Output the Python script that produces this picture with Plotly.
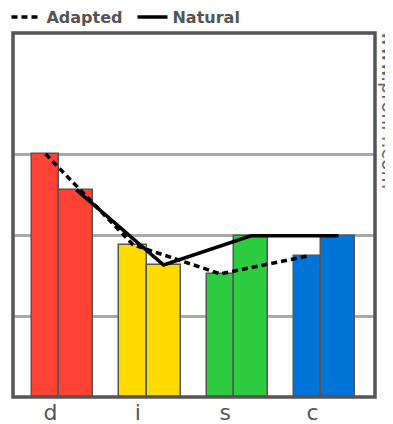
import plotly.graph_objects as go

categories = ["d", "i", "s", "c"]
adapted = [3.0, 1.88, 1.52, 1.74]
natural = [2.56, 1.63, 1.99, 1.99]
colors = ["#FF4136", "#FFDC00", "#2ECC40", "#0074D9"]
grid_vals = [1, 2, 3]

pos = list(range(len(categories)))
x_adapt = [p - 0.055 for p in pos]
x_nat = [p + 0.295 for p in pos]

fig = go.Figure()
fig.add_trace(go.Bar(x=x_adapt, y=adapted, width=0.31, marker=dict(color=colors, line=dict(color="#555555", width=1.5)),
                     showlegend=False, hoverinfo="skip"))
fig.add_trace(go.Bar(x=x_nat, y=natural, width=0.39, marker=dict(color=colors, line=dict(color="#555555", width=1.5)),
                     showlegend=False, hoverinfo="skip"))
fig.add_trace(go.Scatter(x=x_adapt, y=adapted, mode="lines", name="Adapted",
                         line=dict(color="black", width=3.5, dash="6px,4px")))
fig.add_trace(go.Scatter(x=x_nat, y=natural, mode="lines", name="Natural",
                         line=dict(color="black", width=3.5)))

fig.update_layout(
    width=385, height=416,
    margin=dict(l=4.5, r=18, t=25, b=27, autoexpand=False),
    paper_bgcolor="white", plot_bgcolor="white",
    barmode="overlay", bargap=0,
    font=dict(family="DejaVu Sans", color="#555555"),
    xaxis=dict(range=[-0.4286, 3.714], tickvals=pos, ticktext=categories, showgrid=False, zeroline=False,
               tickfont=dict(size=22, color="#555555"), ticks="", showline=False, fixedrange=True),
    yaxis=dict(range=[0, 4.494], tickvals=grid_vals, showticklabels=False, showgrid=True,
               gridcolor="#aaaaaa", gridwidth=2.5, zeroline=False, showline=False, ticks=""),
    legend=dict(orientation="h", xref="paper", yref="paper", x=-0.018, y=1.044,
                xanchor="left", yanchor="middle", itemwidth=30, tracegroupgap=0,
                entrywidth=81, entrywidthmode="pixels",
                font=dict(family="DejaVu Sans", size=16, color="#555555", weight="bold"),
                bgcolor="rgba(0,0,0,0)"),
    shapes=[dict(type="rect", xref="paper", yref="paper", x0=0, x1=1, y0=0, y1=1,
                 line=dict(color="#555555", width=3.5), layer="above")],
    annotations=[dict(text="www.profil4.com", xref="paper", yref="paper", x=1.0, y=0.788,
                      xshift=14, xanchor="center", yanchor="middle", textangle=90, showarrow=False,
                      font=dict(family="DejaVu Sans", size=19, color="#666666"))],
)

fig.write_html("out.html")
